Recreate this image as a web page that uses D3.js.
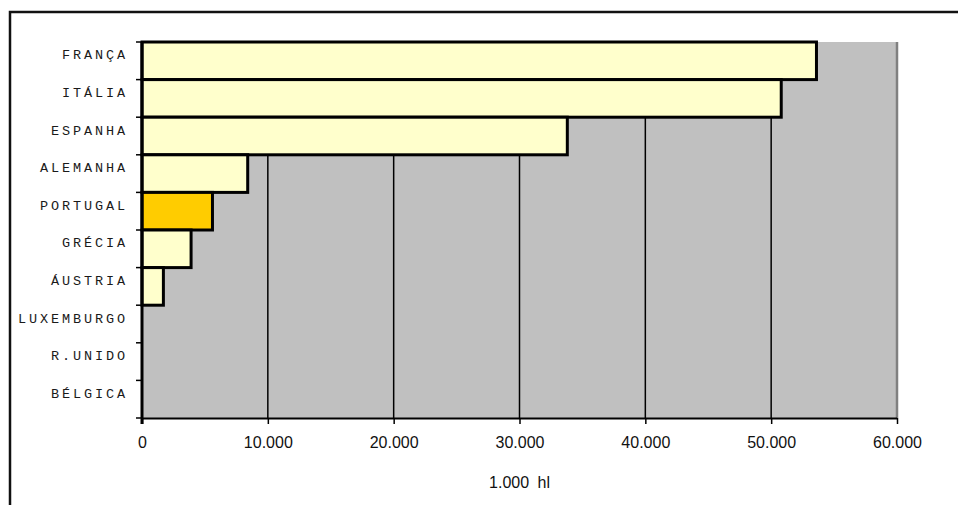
<!DOCTYPE html>
<html>
<head>
<meta charset="utf-8">
<script src="https://cdn.jsdelivr.net/npm/d3@7/dist/d3.min.js"></script>
<style>
  html, body { margin: 0; padding: 0; background: #fff; }
  svg { display: block; }
</style>
</head>
<body>
<svg id="chart" width="958" height="505"></svg>
<script>
// Wine production by country (1.000 hl)
const countries = ["FRANÇA", "ITÁLIA", "ESPANHA", "ALEMANHA", "PORTUGAL", "GRÉCIA", "ÁUSTRIA", "LUXEMBURGO", "R.UNIDO", "BÉLGICA"];
const production = [53600, 50800, 33800, 8400, 5600, 3900, 1700, 0, 0, 0];
const highlighted = ["PORTUGAL"];
const xTicks = [0, 10000, 20000, 30000, 40000, 50000, 60000];
const xTitle = "1.000 hl";

const svg = d3.select("#chart");

// outer chart frame (only the top and left edges fall inside the view)
svg.append("rect")
  .attr("x", 10).attr("y", 12)
  .attr("width", 1200).attr("height", 800)
  .attr("fill", "none")
  .attr("stroke", "#111")
  .attr("stroke-width", 2.5);

const plot = { left: 142, right: 897, top: 42, bottom: 418 };

const x = d3.scaleLinear().domain([0, 60000]).range([plot.left, plot.right]);
const y = d3.scaleBand().domain(countries).range([plot.top, plot.bottom]).padding(0);

// plot background
svg.append("rect")
  .attr("x", plot.left).attr("y", plot.top)
  .attr("width", plot.right - plot.left).attr("height", plot.bottom - plot.top)
  .attr("fill", "#c0c0c0");

// right border of the plot area
svg.append("line")
  .attr("x1", plot.right).attr("x2", plot.right)
  .attr("y1", plot.top).attr("y2", plot.bottom)
  .attr("stroke", "#808080").attr("stroke-width", 2.5);

// vertical gridlines
svg.append("g")
  .selectAll("line")
  .data(xTicks.filter(t => t > 0 && t < 60000))
  .join("line")
  .attr("x1", d => x(d)).attr("x2", d => x(d))
  .attr("y1", plot.top).attr("y2", plot.bottom)
  .attr("stroke", "#000").attr("stroke-width", 1.5);

// bars
svg.append("g")
  .selectAll("rect")
  .data(countries.map((c, i) => ({ c, v: production[i] })).filter(d => d.v > 0))
  .join("rect")
  .attr("x", x(0))
  .attr("y", d => y(d.c))
  .attr("width", d => x(d.v) - x(0))
  .attr("height", y.bandwidth())
  .attr("fill", d => highlighted.includes(d.c) ? "#ffcc00" : "#ffffcc")
  .attr("stroke", "#000")
  .attr("stroke-width", 3);

// x axis
const xAxis = d3.axisBottom(x)
  .tickValues(xTicks)
  .tickSize(6)
  .tickFormat(d => d === 0 ? "0" : d3.format(",")(d).replace(/,/g, "."));

const gx = svg.append("g")
  .attr("transform", `translate(0,${plot.bottom})`)
  .call(xAxis);
gx.attr("font-size", null).attr("font-family", null);
gx.select(".domain").attr("stroke", "#000").attr("stroke-width", 2)
  .attr("d", `M${plot.left},0.5H${plot.right}`);
gx.selectAll(".tick line").attr("stroke", "#000").attr("stroke-width", 1.5);
gx.selectAll(".tick text")
  .attr("y", 19)
  .attr("fill", "#111")
  .style("font-family", "Liberation Sans, Arial, sans-serif")
  .style("font-size", "16px");

// y axis
const yAxis = d3.axisLeft(y).tickSize(0).tickPadding(0);
const gy = svg.append("g")
  .attr("transform", `translate(${plot.left},0)`)
  .call(yAxis);
gy.attr("font-size", null).attr("font-family", null);
gy.select(".domain").remove();
gy.selectAll(".tick text")
  .attr("x", -14)
  .attr("dy", "-0.1em")
  .attr("fill", "#1a1a1a")
  .style("font-family", "Liberation Mono, Courier New, monospace")
  .style("font-size", "13.5px")
  .style("letter-spacing", "2.9px");

// category separator ticks on the left axis
const edges = countries.map(c => y(c)).concat([plot.bottom]);
svg.append("g")
  .selectAll("line")
  .data(edges)
  .join("line")
  .attr("x1", plot.left - 6).attr("x2", plot.left)
  .attr("y1", d => d).attr("y2", d => d)
  .attr("stroke", "#000").attr("stroke-width", 1.5);

svg.append("line")
  .attr("x1", plot.left).attr("x2", plot.left)
  .attr("y1", plot.top).attr("y2", plot.bottom + 6)
  .attr("stroke", "#000").attr("stroke-width", 3);

// axis title
svg.append("text")
  .attr("x", x(30000))
  .attr("y", 488)
  .attr("text-anchor", "middle")
  .attr("fill", "#111")
  .style("font-family", "Liberation Sans, Arial, sans-serif")
  .style("font-size", "16px")
  .style("word-spacing", "4px")
  .text(xTitle);
</script>
</body>
</html>
